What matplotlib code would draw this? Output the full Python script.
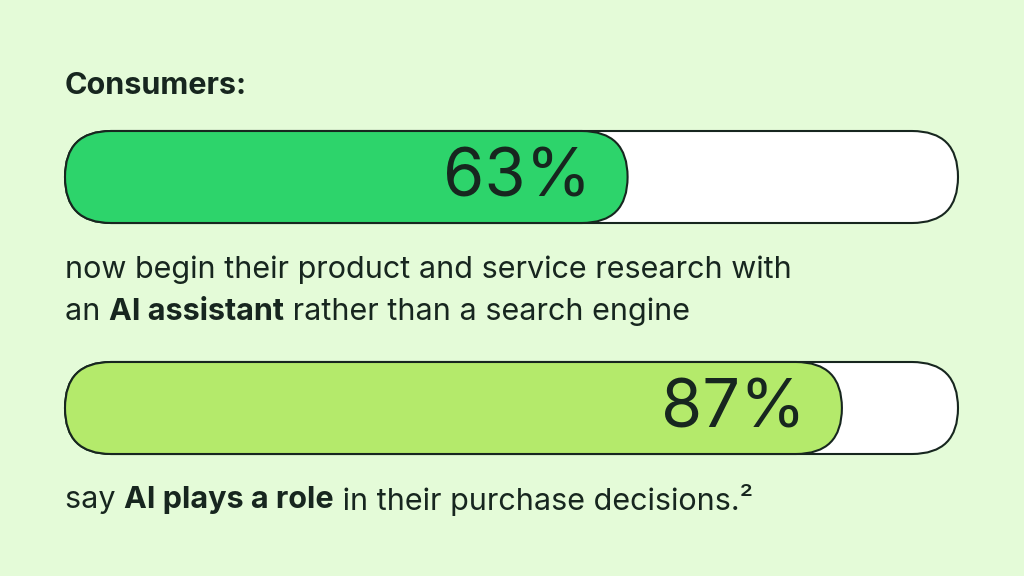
import matplotlib
matplotlib.use('Agg')
import matplotlib.pyplot as plt
from matplotlib.patches import FancyBboxPatch

plt.rcParams['font.family'] = ['Inter', 'DejaVu Sans']

BG = '#e4fbd8'
INK = '#17261f'

title = 'Consumers:'
values = [63, 87]
labels = ['63%', '87%']
fills = ['#2dd46b', '#b4ea6b']
captions = [
    [[('now begin their product and service research with', 'normal')],
     [('an ', 'normal'), ('AI assistant', 'bold'), (' rather than a search engine', 'normal')]],
    [[('say ', 'normal'), ('AI plays a role', 'bold'), (' in their purchase decisions.\u00b2', 'normal')]],
]

fig = plt.figure(figsize=(10.24, 5.76), dpi=100, facecolor=BG)
ax = fig.add_axes([0, 0, 1, 1])
ax.set_xlim(0, 1024)
ax.set_ylim(576, 0)
ax.axis('off')

x0, x1 = 65, 958
bar_h = 92
bar_tops = [131, 362]
caption_y = [[270, 312], [500]]


def pct_x(v):
    return x0 + (x1 - x0) * v / 100.0


ax.text(x0, 86, title, fontsize=22, fontweight='bold', color=INK, va='center')

fig.canvas.draw()
renderer = fig.canvas.get_renderer()
inv = ax.transData.inverted()

for i, v in enumerate(values):
    top = bar_tops[i]
    r = bar_h / 2
    outer = FancyBboxPatch((x0, top), x1 - x0, bar_h,
                           boxstyle='round,pad=0,rounding_size=%d' % r,
                           fc='white', ec=INK, lw=1.5)
    ax.add_patch(outer)
    fw = pct_x(v) - x0
    inner = FancyBboxPatch((x0, top), fw, bar_h,
                           boxstyle='round,pad=0,rounding_size=%d' % r,
                           fc=fills[i], ec=INK, lw=1.5)
    ax.add_patch(inner)
    ax.text(pct_x(v) - 36, top + bar_h / 2 + 2, labels[i], fontsize=48,
            color=INK, ha='right', va='center')

    for line, y in zip(captions[i], caption_y[i]):
        x = x0
        for txt, w in line:
            t = ax.text(x, y, txt, fontsize=22, fontweight=w, color=INK, va='center')
            bb = t.get_window_extent(renderer=renderer)
            x = inv.transform((bb.x1, 0))[0]

fig.savefig('out.png', dpi=100, facecolor=BG)
